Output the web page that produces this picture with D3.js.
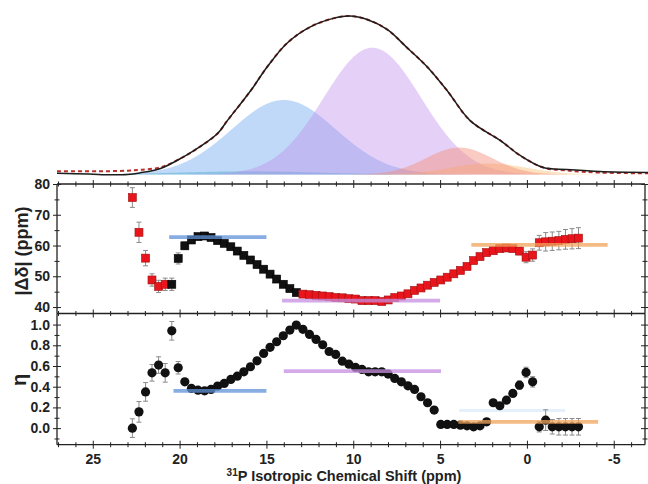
<!DOCTYPE html>
<html><head><meta charset="utf-8">
<script src="https://cdn.jsdelivr.net/npm/d3@7"></script>
<style>
html,body{margin:0;padding:0;background:#fff;}
svg{display:block;font-family:"Liberation Sans",Arial,sans-serif;}
.tk text{font-weight:bold;font-size:14px;fill:#222;}
.tk path,.tk line{stroke:#222;}
</style></head>
<body><svg id="c" width="648" height="484"></svg>
<script>
// ---------- DATA ----------
// top spectrum (experimental) and fit, sampled from the figure
const specPpm = [27.06, 25.2, 24.0, 23.0, 22.3, 21.1, 19.8, 18.8, 17.8, 17.25, 15.9, 14.95, 13.8, 12.5, 11.15, 10.2, 9.2, 8.05, 6.9, 5.75, 4.6, 3.27, 1.54, 0.39, -0.94, -2.3, -4.2, -7.0];
const specInt = [0.008, 0.003, -0.002, 0.0, 0.01, 0.038, 0.11, 0.177, 0.26, 0.34, 0.53, 0.68, 0.83, 0.93, 0.985, 1.0, 0.978, 0.915, 0.80, 0.68, 0.53, 0.34, 0.215, 0.12, 0.044, 0.032, 0.019, 0.013];
const fitInt  = [0.02, 0.02, 0.021, 0.024, 0.03, 0.045, 0.11, 0.177, 0.26, 0.34, 0.53, 0.68, 0.83, 0.93, 0.985, 1.0, 0.978, 0.915, 0.80, 0.68, 0.53, 0.34, 0.215, 0.12, 0.044, 0.025, 0.012, 0.008];
// deconvolution components (Gaussian): centre (ppm), sigma (ppm), amplitude
const compName   = ["teal", "blue", "purple", "orange", "salmon"];
const compCenter = [16.0, 14.0, 8.9, 2.2, 3.9];
const compSigma  = [4.0, 3.0, 2.8, 2.2, 1.9];
const compAmp    = [0.02, 0.47, 0.80, 0.07, 0.17];

// per-shift data
const shift = [22.72,22.34,21.96,21.59,21.21,20.83,20.45,20.08,19.70,19.32,18.94,18.56,18.19,17.81,17.43,17.05,16.68,16.30,15.92,15.54,15.16,14.79,14.41,14.03,13.65,13.28,12.90,12.52,12.14,11.76,11.39,11.01,10.63,10.25,9.87,9.50,9.12,8.74,8.36,7.99,7.61,7.23,6.85,6.47,6.10,5.72,5.34,4.96,4.59,4.21,3.83,3.45,3.07,2.70,2.32,1.94,1.56,1.18,0.81,0.43,0.05,-0.33,-0.71,-1.08,-1.46,-1.84,-2.22,-2.60,-2.97];
const delta = [75.6,64.3,55.9,48.8,46.7,47.4,47.4,55.8,59.9,61.8,62.9,63.1,62.6,61.6,60.7,59.6,58.2,56.8,55.3,53.8,52.3,50.7,49.1,47.4,46.0,44.7,44.2,44.0,43.8,43.6,43.4,43.1,43.0,42.7,42.6,42.1,42.1,42.1,41.8,42.3,43.1,43.6,44.3,45.4,46.2,47.1,48.0,48.8,49.7,50.8,51.9,53.2,55.1,56.4,57.7,58.3,59.0,59.2,59.0,58.2,56.2,56.9,60.9,61.2,61.4,61.6,62.0,62.2,62.4];
const deltaErr = [3.2,3.3,2.5,2,2,2,2,1.8,1.2,1,1,1,1,0.8,0.6,0.5,0.5,0.5,0.5,0.5,0.5,0.5,0.5,0.5,0.5,0.5,0.5,0.5,0.5,0.5,0.5,0.5,0.5,0.5,0.5,0.5,0.5,0.5,0.5,0.5,0.5,0.5,0.5,0.5,0.5,0.5,0.5,0.5,0.5,0.5,0.5,0.5,0.5,0.5,0.5,0.6,0.8,1,1,1.2,1.8,2,2.4,3,3,3,3.2,3.3,3.4];
const deltaSet = ["a","a","a","a","a","a","b","b","b","b","b","b","b","b","b","b","b","b","b","b","b","b","b","b","b","b","a","a","a","a","a","a","a","a","a","a","a","a","a","a","a","a","a","a","a","a","a","a","a","a","a","a","a","a","a","a","a","a","a","a","a","a","a","a","a","a","a","a","a"];
const eta = [0.00,0.157,0.35,0.534,0.609,0.534,0.94,0.583,0.447,0.383,0.367,0.36,0.374,0.406,0.432,0.47,0.502,0.544,0.593,0.65,0.721,0.78,0.834,0.892,0.947,0.995,0.954,0.905,0.857,0.805,0.74,0.712,0.647,0.618,0.586,0.567,0.544,0.544,0.544,0.522,0.48,0.447,0.409,0.374,0.303,0.245,0.174,0.036,0.036,0.036,0.029,0.022,0.013,0.022,0.061,0.245,0.216,0.27,0.335,0.415,0.538,0.447,0.013,0.077,0.013,0.013,0.013,0.013,0.013];
const etaErr = [0.09,0.1,0.09,0.08,0.08,0.09,0.09,0.06,0.03,0.03,0.03,0.03,0.03,0.03,0.03,0.03,0.03,0.03,0.03,0.03,0.03,0.03,0.03,0.03,0.03,0.03,0.03,0.03,0.03,0.03,0.03,0.03,0.03,0.03,0.03,0.03,0.03,0.03,0.03,0.03,0.03,0.03,0.03,0.03,0.03,0.03,0.03,0.02,0.02,0.02,0.02,0.02,0.02,0.02,0.03,0.03,0.03,0.03,0.03,0.04,0.05,0.05,0.05,0.1,0.07,0.08,0.08,0.08,0.08];
// site averages (horizontal bars)
const siteName  = ["blue", "purple", "orange"];
const siteDelta = [62.7, 42.1, 60.2];
const siteDeltaFrom = [20.6, 14.1, 3.2];
const siteDeltaTo   = [15.0, 5.0, -4.65];
const siteEta   = [0.36, 0.55, 0.06];
const siteEtaFrom = [20.35, 14.0, 3.95];
const siteEtaTo   = [15.0, 4.95, -4.1];

const xMajor = [25, 20, 15, 10, 5, 0, -5];
const deltaTicks = [40, 50, 60, 70, 80];
const etaTicks = [0.0, 0.2, 0.4, 0.6, 0.8, 1.0];

// ---------- STYLE ----------
const compFill = {teal:"rgb(90,190,190)", blue:"rgb(100,160,240)", purple:"rgb(190,140,235)", orange:"rgb(250,190,120)", salmon:"rgb(245,140,120)"};
const compOpacity = {teal:0.55, blue:0.4, purple:0.4, orange:0.45, salmon:0.45};
const siteColor = {blue:"#5f92d8", purple:"#c58fe0", orange:"#f2a45c"};

const svg = d3.select("#c");
svg.append("rect").attr("width",648).attr("height",484).attr("fill","#fff");

const L = 57, R = 645;
const x = d3.scaleLinear().domain([27.06, -6.8]).range([L, R]);
const yTop = d3.scaleLinear().domain([0, 1]).range([174.5, 16]);
const yD = d3.scaleLinear().domain([37.9, 80]).range([313.5, 184]);
const yE = d3.scaleLinear().domain([-0.16, 1.107]).range([444.7, 313.5]);

// ---------- TOP PANEL ----------
const gridPpm = d3.range(27.06, -7.01, -0.05);
const gTop = svg.append("g");
compName.forEach((n, i) => {
  const area = d3.area()
    .x(p => x(p))
    .y0(yTop(0))
    .y1(p => yTop(compAmp[i] * Math.exp(-0.5 * Math.pow((p - compCenter[i]) / compSigma[i], 2))))
    .curve(d3.curveLinear);
  gTop.append("path").datum(gridPpm).attr("d", area)
    .attr("fill", compFill[n]).attr("fill-opacity", compOpacity[n]);
});
const specLine = d3.line().x((d) => x(d[0])).y(d => yTop(d[1])).curve(d3.curveCatmullRom.alpha(0.5));
gTop.append("path").datum(specPpm.map((p, i) => [p, fitInt[i]]))
  .attr("d", specLine).attr("fill","none").attr("stroke","#b8302a").attr("stroke-width",2).attr("stroke-dasharray","4,3");
gTop.append("path").datum(specPpm.map((p, i) => [p, specInt[i]]))
  .attr("d", specLine).attr("fill","none").attr("stroke","#1d1d1d").attr("stroke-width",1.5);

// ---------- AXES helpers ----------
function xAxisAt(y, withLabels) {
  const minor = d3.range(-6, 28, 1).filter(v => !xMajor.includes(v) && x(v) >= L && x(v) <= R);
  const fmt = withLabels ? (d => String(d)) : () => "";
  svg.append("g").attr("class","tk").attr("transform",`translate(0,${y})`)
    .call(d3.axisBottom(x).tickValues(xMajor).tickSize(4).tickPadding(5).tickFormat(fmt))
    .call(g => g.select(".domain").attr("d", `M${L},0H${R}`).attr("stroke-width",1.3));
  svg.append("g").attr("class","tk").attr("transform",`translate(0,${y})`)
    .call(d3.axisTop(x).tickValues(xMajor).tickSize(4).tickFormat(""))
    .call(g => g.select(".domain").remove());
  svg.append("g").attr("class","tk").attr("transform",`translate(0,${y})`)
    .call(d3.axisBottom(x).tickValues(minor).tickSize(2.5).tickFormat(""))
    .call(g => g.select(".domain").remove());
  svg.append("g").attr("class","tk").attr("transform",`translate(0,${y})`)
    .call(d3.axisTop(x).tickValues(minor).tickSize(2.5).tickFormat(""))
    .call(g => g.select(".domain").remove());
}
function yAxisAt(scale, major, minor, fmt) {
  [[L, true], [R, false]].forEach(([xx, lab]) => {
    svg.append("g").attr("class","tk").attr("transform",`translate(${xx},0)`)
      .call(d3.axisLeft(scale).tickValues(major).tickSize(4).tickPadding(3).tickFormat(lab ? fmt : () => ""))
      .call(g => g.select(".domain").attr("d", `M0,${scale.range()[0]}V${scale.range()[1]}`).attr("stroke-width",1.3));
    svg.append("g").attr("class","tk").attr("transform",`translate(${xx},0)`)
      .call(d3.axisRight(scale).tickValues(major).tickSize(4).tickFormat(""))
      .call(g => g.select(".domain").remove());
    svg.append("g").attr("class","tk").attr("transform",`translate(${xx},0)`)
      .call(d3.axisLeft(scale).tickValues(minor).tickSize(2.5).tickFormat(""))
      .call(g => g.select(".domain").remove());
    svg.append("g").attr("class","tk").attr("transform",`translate(${xx},0)`)
      .call(d3.axisRight(scale).tickValues(minor).tickSize(2.5).tickFormat(""))
      .call(g => g.select(".domain").remove());
  });
}

// ---------- MIDDLE PANEL ----------
const gM = svg.append("g");
shift.forEach((s, i) => {
  const cx = x(s), e = deltaErr[i];
  const y1 = yD(delta[i] + e), y2 = yD(delta[i] - e);
  gM.append("line").attr("x1",cx).attr("x2",cx).attr("y1",y1).attr("y2",y2).attr("stroke","#8a8a8a").attr("stroke-width",1);
  gM.append("line").attr("x1",cx-2.5).attr("x2",cx+2.5).attr("y1",y1).attr("y2",y1).attr("stroke","#8a8a8a").attr("stroke-width",1);
  gM.append("line").attr("x1",cx-2.5).attr("x2",cx+2.5).attr("y1",y2).attr("y2",y2).attr("stroke","#8a8a8a").attr("stroke-width",1);
});
gM.selectAll("rect.pt").data(shift).join("rect").attr("class","pt")
  .attr("x", d => x(d) - 4).attr("y", (d, i) => yD(delta[i]) - 4)
  .attr("width", 8).attr("height", 8)
  .attr("fill", (d, i) => deltaSet[i] === "a" ? "#e8161c" : "#111")
  .attr("stroke", (d, i) => deltaSet[i] === "a" ? "#a01010" : "#000").attr("stroke-width", 0.6);
siteName.forEach((n, i) => {
  gM.append("line").attr("x1", x(siteDeltaFrom[i])).attr("x2", x(siteDeltaTo[i]))
    .attr("y1", yD(siteDelta[i])).attr("y2", yD(siteDelta[i]))
    .attr("stroke", siteColor[n]).attr("stroke-width", 3.8).attr("stroke-opacity", 0.75);
});

// ---------- BOTTOM PANEL ----------
const gB = svg.append("g");
gB.append("line").attr("x1", x(3.9)).attr("x2", x(-2.2)).attr("y1", yE(0.17)).attr("y2", yE(0.17))
  .attr("stroke", "#e4f1fc").attr("stroke-width", 3);
shift.forEach((s, i) => {
  const cx = x(s), e = etaErr[i];
  const y1 = yE(eta[i] + e), y2 = yE(eta[i] - e);
  gB.append("line").attr("x1",cx).attr("x2",cx).attr("y1",y1).attr("y2",y2).attr("stroke","#8a8a8a").attr("stroke-width",1);
  gB.append("line").attr("x1",cx-2.5).attr("x2",cx+2.5).attr("y1",y1).attr("y2",y1).attr("stroke","#8a8a8a").attr("stroke-width",1);
  gB.append("line").attr("x1",cx-2.5).attr("x2",cx+2.5).attr("y1",y2).attr("y2",y2).attr("stroke","#8a8a8a").attr("stroke-width",1);
});
gB.selectAll("circle.pt").data(shift).join("circle").attr("class","pt")
  .attr("cx", d => x(d)).attr("cy", (d, i) => yE(eta[i])).attr("r", 4.6)
  .attr("fill", "#111");
siteName.forEach((n, i) => {
  gB.append("line").attr("x1", x(siteEtaFrom[i])).attr("x2", x(siteEtaTo[i]))
    .attr("y1", yE(siteEta[i])).attr("y2", yE(siteEta[i]))
    .attr("stroke", siteColor[n]).attr("stroke-width", 3.8).attr("stroke-opacity", 0.75);
});

// ---------- AXES ----------
xAxisAt(184, false);
xAxisAt(313.5, false);
xAxisAt(444.7, true);
yAxisAt(yD, deltaTicks, [45, 55, 65, 75], d => String(d));
yAxisAt(yE, etaTicks, [-0.1, 0.1, 0.3, 0.5, 0.7, 0.9], d => d.toFixed(1));

// titles
svg.append("text").attr("transform", "translate(28,251) rotate(-90)")
  .attr("text-anchor","middle").attr("font-weight","bold").attr("font-size",18).attr("fill","#222")
  .text("|Δδ| (ppm)");
svg.append("text").attr("transform", "translate(26,380) rotate(-90)")
  .attr("text-anchor","middle").attr("font-weight","bold").attr("font-size",20).attr("fill","#222")
  .text("η");
const xt = svg.append("text").attr("x", 344).attr("y", 481).attr("text-anchor","middle")
  .attr("font-weight","bold").attr("font-size",14.5).attr("fill","#222");
xt.append("tspan").attr("font-size",10).attr("dy",-5).text("31");
xt.append("tspan").attr("dy",5).text("P Isotropic Chemical Shift (ppm)");
</script></body></html>
